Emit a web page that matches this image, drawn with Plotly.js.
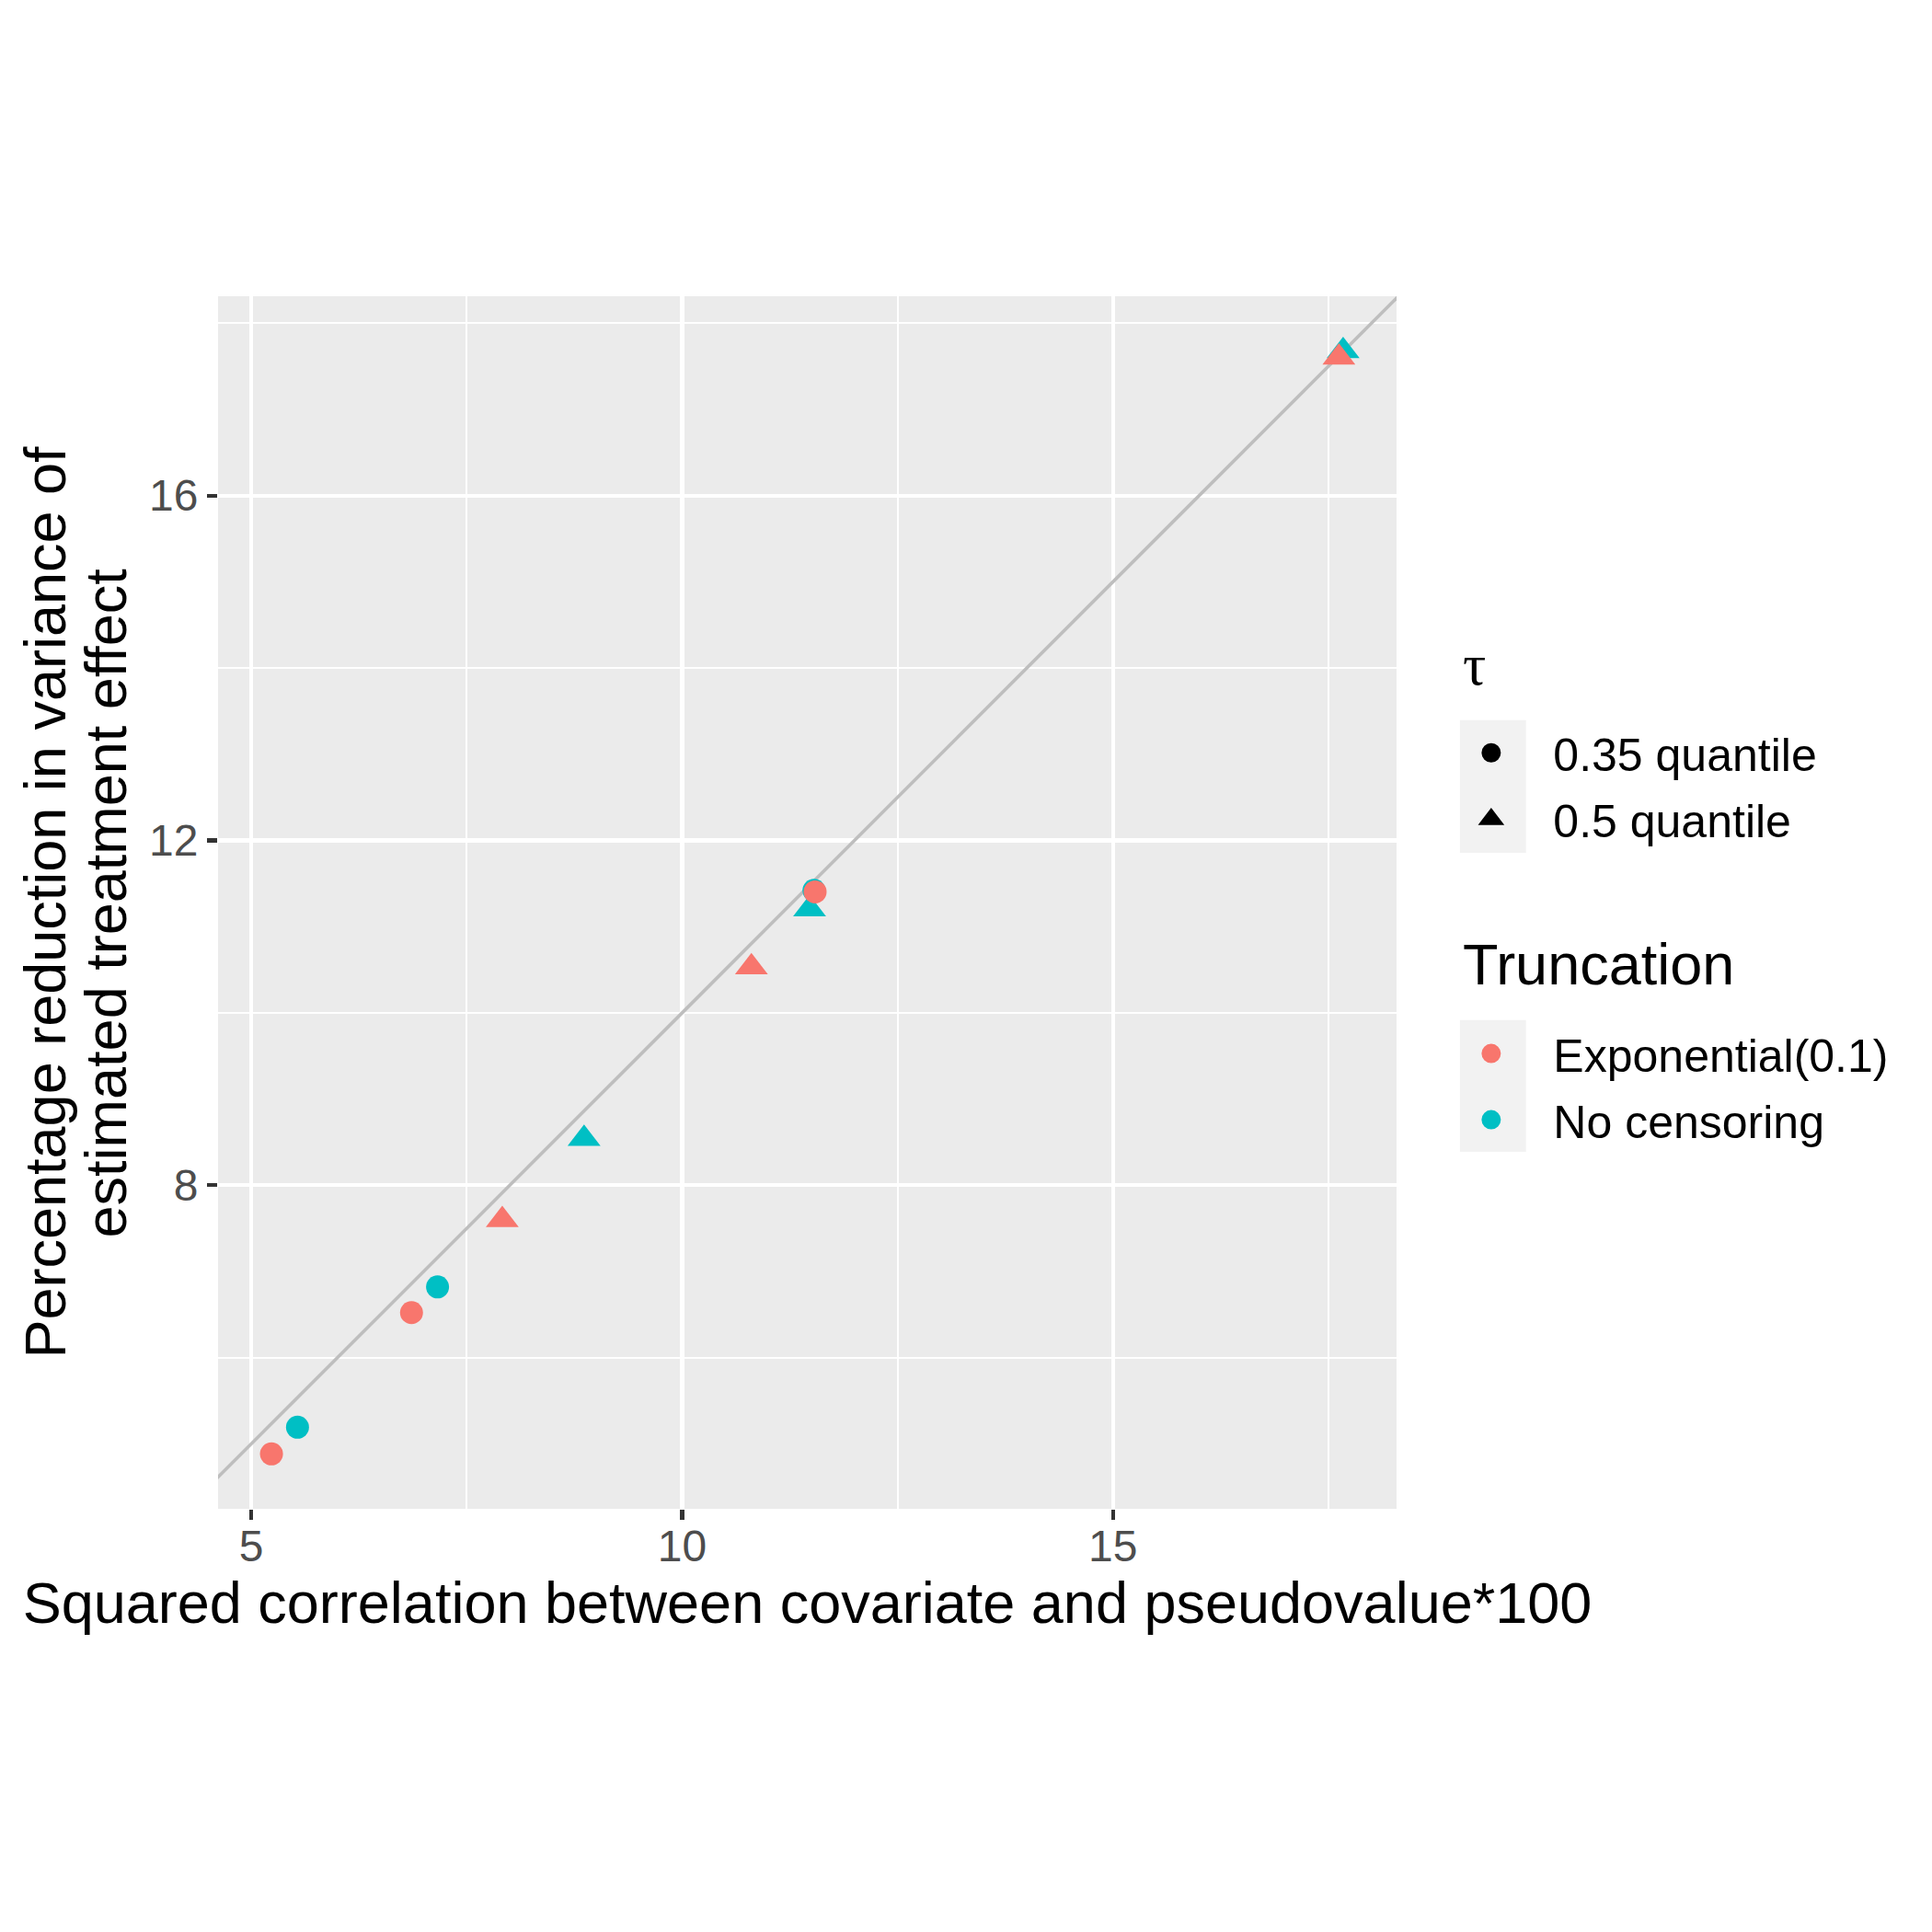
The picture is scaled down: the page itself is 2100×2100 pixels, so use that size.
<!DOCTYPE html>
<html>
<head>
<meta charset="utf-8">
<script src="https://cdn.plot.ly/plotly-3.0.1.min.js"></script>
<style>
  html, body { margin: 0; padding: 0; background: #fff; }
  #chart { width: 2100px; height: 2100px; }
</style>
</head>
<body>
<div id="chart"></div>
<script>
// values
const truncationLevels = ['Exponential(0.1)', 'No censoring'];
const tauLevels = ['0.35 quantile', '0.5 quantile'];
const truncationColors = ['#F8766D', '#00BFC4'];
const tauSymbols = ['circle', 'triangle-up'];

const noCensCircleX = [5.537, 7.162, 11.530];
const noCensCircleY = [5.193, 6.821, 11.420];
const noCensTriangleX = [8.862, 11.479, 17.670];
const noCensTriangleY = [8.539, 11.201, 17.676];

const expCircleX = [5.235, 6.860, 11.543];
const expCircleY = [4.884, 6.523, 11.403];
const expTriangleX = [7.913, 10.804, 17.621];
const expTriangleY = [7.599, 10.529, 17.602];

const identityLine = [4, 19];

const xTitle = 'Squared correlation between covariate and pseudovalue*100';
const yTitleLines = ['Percentage reduction in variance of', 'estimated treatment effect'];
const legendTitles = ['τ', 'Truncation'];

const target = document.getElementById('chart');
const font = 'Liberation Sans, Arial, Helvetica, sans-serif';
const serif = 'Liberation Serif, DejaVu Serif, serif';

function points(x, y, color, symbol) {
  return {
    x: x,
    y: y,
    type: 'scatter',
    mode: 'markers',
    showlegend: false,
    cliponaxis: false,
    marker: {
      color: color,
      symbol: symbol,
      size: symbol === 'circle' ? 25 : 31,
      line: { width: 0 }
    },
    hoverinfo: 'x+y'
  };
}

// legend-only entries (no data), one per key like ggplot's separate guides
function legendEntry(name, color, symbol, legendId) {
  return {
    x: [null],
    y: [null],
    type: 'scatter',
    mode: 'markers',
    name: name,
    legend: legendId,
    legendgroup: legendId + name,
    showlegend: true,
    marker: {
      color: color,
      symbol: symbol,
      size: 16,
      line: { width: 5, color: color }
    }
  };
}

const traces = [
  {
    x: identityLine,
    y: identityLine,
    type: 'scatter',
    mode: 'lines',
    showlegend: false,
    line: { color: '#BEBEBE', width: 3.6 },
    hoverinfo: 'skip'
  },
  points(noCensCircleX, noCensCircleY, truncationColors[1], tauSymbols[0]),
  points(noCensTriangleX, noCensTriangleY, truncationColors[1], tauSymbols[1]),
  points(expCircleX, expCircleY, truncationColors[0], tauSymbols[0]),
  points(expTriangleX, expTriangleY, truncationColors[0], tauSymbols[1]),
  legendEntry(tauLevels[0], '#000000', tauSymbols[0], 'legend'),
  legendEntry(tauLevels[1], '#000000', tauSymbols[1], 'legend'),
  legendEntry(truncationLevels[0], truncationColors[0], 'circle', 'legend2'),
  legendEntry(truncationLevels[1], truncationColors[1], 'circle', 'legend2')
];

const keyBox = (y0, y1) => ({
  type: 'rect',
  xref: 'paper',
  yref: 'paper',
  x0: 1.0538,
  x1: 1.1098,
  y0: y0,
  y1: y1,
  fillcolor: '#F2F2F2',
  line: { width: 0 },
  layer: 'below'
});

const legendStyle = {
  x: 1.0276,
  xanchor: 'left',
  yanchor: 'top',
  bgcolor: 'rgba(0,0,0,0)',
  borderwidth: 0,
  traceorder: 'grouped',
  tracegroupgap: 4,
  itemwidth: 125,
  font: { family: font, size: 50, color: '#000000' }
};

const legendTitle = (text, family, y) => ({
  text: text,
  xref: 'paper',
  yref: 'paper',
  x: 1.0545,
  y: y,
  xanchor: 'left',
  yanchor: 'bottom',
  showarrow: false,
  font: { family: family, size: 63, color: '#000000' }
});

const layout = {
  width: 2100,
  height: 2100,
  paper_bgcolor: '#FFFFFF',
  plot_bgcolor: '#EBEBEB',
  font: { family: font, color: '#000000' },
  margin: { l: 236.6, r: 581.7, t: 321.7, b: 460, pad: 0, autoexpand: false },
  showlegend: true,
  xaxis: {
    range: [4.615, 18.29],
    tick0: 0,
    dtick: 5,
    ticks: 'outside',
    ticklen: 11,
    tickwidth: 4.2,
    tickcolor: '#333333',
    ticklabelstandoff: -13,
    tickfont: { family: font, size: 48, color: '#4D4D4D' },
    showgrid: true,
    gridcolor: '#FFFFFF',
    gridwidth: 4.2,
    minor: { tick0: 0, dtick: 2.5, showgrid: true, gridcolor: '#FFFFFF', gridwidth: 2.2 },
    zeroline: false,
    showline: false,
    automargin: false,
    title: { text: xTitle, font: { family: font, size: 63, color: '#000000' }, standoff: 14 }
  },
  yaxis: {
    range: [4.247, 18.312],
    tick0: 0,
    dtick: 4,
    ticks: 'outside',
    ticklen: 11,
    tickwidth: 4.2,
    tickcolor: '#333333',
    tickfont: { family: font, size: 48, color: '#4D4D4D' },
    showgrid: true,
    gridcolor: '#FFFFFF',
    gridwidth: 4.2,
    minor: { tick0: 0, dtick: 2, showgrid: true, gridcolor: '#FFFFFF', gridwidth: 2.2 },
    zeroline: false,
    showline: false,
    automargin: false,
    title: { text: '' }
  },
  legend: Object.assign({}, legendStyle, { y: 0.6531 }),
  legend2: Object.assign({}, legendStyle, { y: 0.4051 }),
  shapes: [keyBox(0.5410, 0.6504), keyBox(0.2943, 0.4031)],
  annotations: yTitleLines.map((line, i) => ({
    text: line,
    xref: 'paper',
    yref: 'paper',
    x: i === 0 ? -0.1471 : -0.0949,
    y: 0.5,
    xanchor: 'center',
    yanchor: 'middle',
    textangle: -90,
    showarrow: false,
    font: { family: font, size: 63, color: '#000000' }
  })).concat([
    legendTitle(legendTitles[0], serif, 0.6678),
    legendTitle(legendTitles[1], font, 0.4214)
  ])
};

Plotly.newPlot(target, traces, layout, { displayModeBar: false, staticPlot: true });
</script>
</body>
</html>
